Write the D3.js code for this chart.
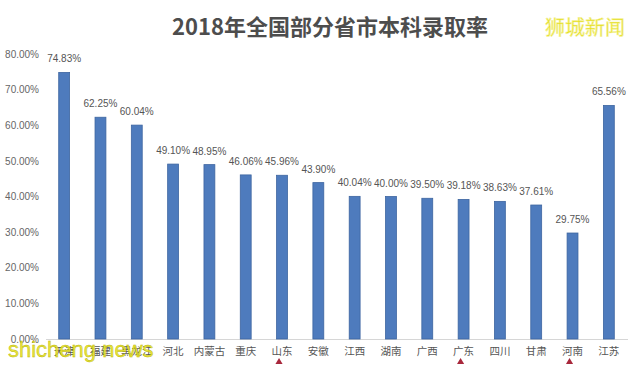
<!DOCTYPE html>
<html>
<head>
<meta charset="utf-8">
<script src="https://cdn.jsdelivr.net/npm/d3@7"></script>
<style>
  html, body { margin: 0; padding: 0; background: #fff; }
  svg { display: block; }
</style>
</head>
<body>
<svg id="chart" width="640" height="368"></svg>
<script>
const categories = ["天津", "福建", "黑龙江", "河北", "内蒙古", "重庆", "山东", "安徽", "江西", "湖南", "广西", "广东", "四川", "甘肃", "河南", "江苏"];
const values = [74.83, 62.25, 60.04, 49.10, 48.95, 46.06, 45.96, 43.90, 40.04, 40.00, 39.50, 39.18, 38.63, 37.61, 29.75, 65.56];
const yTicks = [0, 10, 20, 30, 40, 50, 60, 70, 80];
const markedCategories = ["山东", "广东", "河南"];
const titleText = "2018年全国部分省市本科录取率";
const logoText = "狮城新闻";
const watermarkText = "shicheng news";

const svg = d3.select("#chart");
const cjk = "'Noto Sans CJK SC', 'Noto Sans', sans-serif";
const latin = "'Liberation Sans', Arial, sans-serif";

const x = d3.scaleBand().domain(categories).range([46, 627]).paddingInner(0.7).paddingOuter(0.35);
const y = d3.scaleLinear().domain([0, 80]).range([339, 54]);

// title
svg.append("text").attr("x", 330).attr("y", 35).attr("text-anchor", "middle")
  .attr("font-family", cjk).attr("font-weight", "bold").attr("font-size", 22)
  .attr("fill", "#4d4d4d").text(titleText);

// logo
svg.append("text").attr("x", 585).attr("y", 35).attr("text-anchor", "middle")
  .attr("font-family", cjk).attr("font-size", 20).attr("fill", "#e2dc1e")
  .attr("stroke", "#f6f3a0").attr("stroke-width", 0.6).text(logoText);

// y axis
const yAxis = d3.axisLeft(y).tickValues(yTicks).tickSize(0).tickPadding(0)
  .tickFormat(d => d3.format(".2f")(d) + "%");
const yg = svg.append("g").attr("transform", "translate(39,0)").call(yAxis);
yg.select(".domain").remove();
yg.selectAll("text").attr("font-family", latin).attr("font-size", 10).attr("fill", "#666");

// baseline
svg.append("line").attr("x1", 46).attr("x2", 628).attr("y1", y(0) + 0.5).attr("y2", y(0) + 0.5)
  .attr("stroke", "#d6d6d6").attr("stroke-width", 1);

// bars
svg.append("g").selectAll("rect").data(categories).join("rect")
  .attr("x", d => x(d)).attr("width", x.bandwidth())
  .attr("y", (d, i) => y(values[i])).attr("height", (d, i) => y(0) - y(values[i]))
  .attr("fill", "#4e7bbd").attr("stroke", "#3d65a0").attr("stroke-width", 0.8);

// value labels
svg.append("g").selectAll("text").data(categories).join("text")
  .attr("x", d => x(d) + x.bandwidth() / 2).attr("y", (d, i) => y(values[i]) - 10)
  .attr("text-anchor", "middle").attr("font-family", latin).attr("font-size", 10)
  .attr("fill", "#555").text((d, i) => d3.format(".2f")(values[i]) + "%");

// x axis labels
const xAxis = d3.axisBottom(x).tickSize(0).tickPadding(9);
const xg = svg.append("g").attr("transform", `translate(0,${y(0)})`).call(xAxis);
xg.select(".domain").remove();
xg.selectAll("text").attr("font-family", cjk).attr("font-size", 10.5).attr("fill", "#555");

// red markers
svg.append("g").selectAll("path").data(markedCategories).join("path")
  .attr("d", d3.symbol().type(d3.symbolTriangle).size(22))
  .attr("transform", d => `translate(${x(d) + x.bandwidth() / 2 - 3},${362})`)
  .attr("fill", "#a8283c");

// watermark
svg.append("text").attr("x", 8).attr("y", 357)
  .attr("font-family", latin).attr("font-size", 22).attr("fill", "#e6e22a")
  .attr("fill-opacity", 0.92).attr("stroke", "#b8b400").attr("stroke-width", 0.4)
  .text(watermarkText);
</script>
</body>
</html>
